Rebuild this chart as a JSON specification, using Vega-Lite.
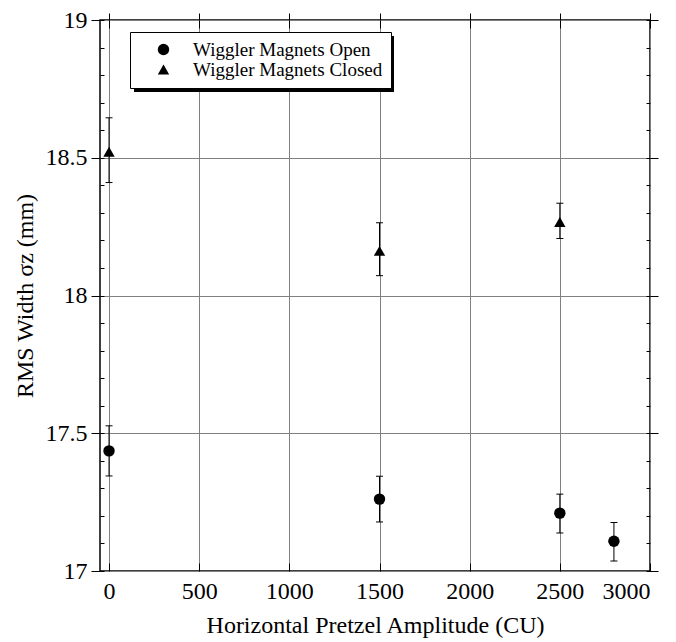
{
  "$schema": "https://vega.github.io/schema/vega-lite/v6.json",
  "autosize": {"type": "none"},
  "padding": {"left": 100, "top": 20, "right": 26, "bottom": 71},
  "width": 550,
  "height": 551,
  "background": "white",
  "config": {
    "view": {"stroke": "black", "strokeWidth": 1.5},
    "font": "Liberation Serif",
    "axis": {
      "labelFont": "Liberation Serif",
      "titleFont": "Liberation Serif",
      "labelColor": "black",
      "titleColor": "black",
      "tickColor": "black",
      "domain": false,
      "gridColor": "#808080",
      "gridWidth": 1,
      "gridOpacity": 1,
      "titleFontWeight": "normal",
      "tickWidth": 1
    }
  },
  "data": {
    "values": [
      {"series": "Wiggler Magnets Open", "amp": 0, "width": 17.436, "lo": 17.345, "hi": 17.527},
      {"series": "Wiggler Magnets Open", "amp": 1500, "width": 17.261, "lo": 17.178, "hi": 17.344},
      {"series": "Wiggler Magnets Open", "amp": 2500, "width": 17.21, "lo": 17.138, "hi": 17.279},
      {"series": "Wiggler Magnets Open", "amp": 2800, "width": 17.108, "lo": 17.036, "hi": 17.176},
      {"series": "Wiggler Magnets Closed", "amp": 0, "width": 18.522, "lo": 18.41, "hi": 18.645},
      {"series": "Wiggler Magnets Closed", "amp": 1500, "width": 18.162, "lo": 18.072, "hi": 18.264},
      {"series": "Wiggler Magnets Closed", "amp": 2500, "width": 18.267, "lo": 18.207, "hi": 18.335}
    ]
  },
  "resolve": {
    "scale": {"x": "shared", "y": "shared"},
    "axis": {"x": "independent", "y": "independent"}
  },
  "layer": [
    {
      "mark": {"type": "rule", "strokeWidth": 1},
      "encoding": {
        "x": {"field": "amp", "type": "quantitative", "scale": {"domain": [-50, 3000], "nice": false, "zero": false},
          "axis": {"orient": "top", "values": [0, 500, 1000, 1500, 2000, 2500, 3000], "labels": false, "grid": false, "tickSize": 7, "title": null}},
        "y": {"field": "lo", "type": "quantitative", "scale": {"domain": [17, 19], "nice": false, "zero": false},
          "axis": {"orient": "right", "values": [17, 17.5, 18, 18.5, 19], "labels": false, "grid": false, "tickSize": 8, "title": null}},
        "y2": {"field": "hi"},
        "color": {"field": "amp", "type": "quantitative",
          "scale": {"range": ["black", "black"]},
          "legend": {"orient": "none", "legendX": 34, "legendY": 16, "title": null, "direction": "horizontal",
            "gradientLength": 260, "gradientThickness": 56, "gradientStrokeWidth": 0, "labels": false, "padding": 0,
            "labelOpacity": 0}}
      }
    },
    {
      "mark": {"type": "tick", "color": "black", "orient": "horizontal", "size": 7, "thickness": 1, "opacity": 1},
      "encoding": {
        "x": {"field": "amp", "type": "quantitative",
          "axis": {"orient": "bottom", "values": [0, 500, 1000, 1500, 2000, 2500, 3000], "labels": false, "grid": false, "tickSize": -8, "title": null}},
        "y": {"field": "lo", "type": "quantitative",
          "axis": {"orient": "left", "values": [17, 17.1, 17.2, 17.3, 17.4, 17.5, 17.6, 17.7, 17.8, 17.9, 18, 18.1, 18.2, 18.3, 18.4, 18.5, 18.6, 18.7, 18.8, 18.9, 19], "labels": false, "grid": false, "tickSize": -4, "title": null}}
      }
    },
    {
      "mark": {"type": "tick", "color": "black", "orient": "horizontal", "size": 7, "thickness": 1, "opacity": 1},
      "encoding": {
        "x": {"field": "amp", "type": "quantitative",
          "axis": {"orient": "top", "values": [0, 500, 1000, 1500, 2000, 2500, 3000], "labels": false, "grid": false, "tickSize": -8, "title": null}},
        "y": {"field": "hi", "type": "quantitative",
          "axis": {"orient": "right", "values": [17, 17.1, 17.2, 17.3, 17.4, 17.5, 17.6, 17.7, 17.8, 17.9, 18, 18.1, 18.2, 18.3, 18.4, 18.5, 18.6, 18.7, 18.8, 18.9, 19], "labels": false, "grid": false, "tickSize": -4, "title": null}}
      }
    },
    {
      "mark": {"type": "point", "filled": true, "color": "black", "opacity": 1, "size": 130},
      "encoding": {
        "x": {"field": "amp", "type": "quantitative",
          "axis": {"orient": "bottom", "values": [0, 500, 1000, 1500, 2000, 2500, 3000], "format": "d", "grid": true, "ticks": false,
            "labelFontSize": 24, "labelPadding": 8, "title": "Horizontal Pretzel Amplitude (CU)", "titleFontSize": 24, "titlePadding": 10}},
        "y": {"field": "width", "type": "quantitative",
          "axis": {"orient": "left", "values": [17, 17.5, 18, 18.5, 19], "format": "~g", "grid": true, "tickSize": 9,
            "labelFontSize": 24, "labelPadding": 4, "title": "RMS Width σz (mm)", "titleFontSize": 24, "titlePadding": 8}},
        "shape": {"field": "series", "type": "nominal",
          "scale": {"domain": ["Wiggler Magnets Open", "Wiggler Magnets Closed"], "range": ["circle", "triangle-up"]},
          "legend": {"orient": "none", "legendX": 30, "legendY": 12, "title": null, "fillColor": "white", "strokeColor": "black",
            "padding": 8, "symbolOffset": 16, "labelOffset": 20, "labelFont": "Liberation Serif", "labelFontSize": 19, "labelColor": "black",
            "labelLimit": 400, "symbolSize": 130, "symbolFillColor": "black", "symbolStrokeColor": "black", "rowPadding": 0,
            "encode": {"legend": {"update": {"strokeWidth": {"value": 1.5}}}}}}
      }
    }
  ]
}
